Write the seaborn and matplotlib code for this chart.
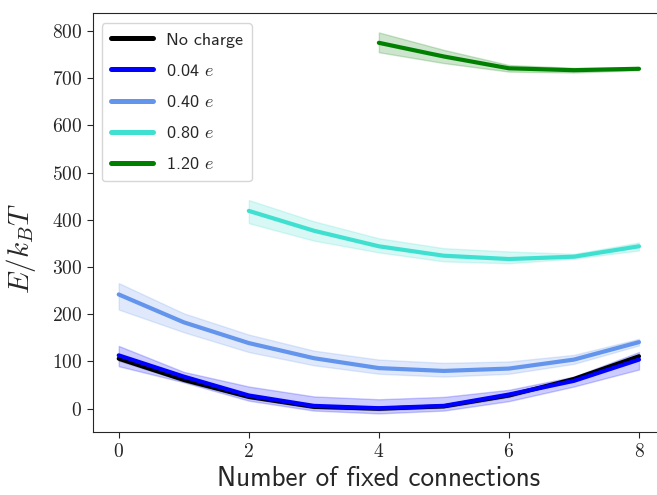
import numpy as np
import pandas as pd
import matplotlib
matplotlib.use("Agg")
import matplotlib.pyplot as plt
import seaborn as sns

# mean curve and band limits per charge
x_all = [0, 1, 2, 3, 4, 5, 6, 7, 8]

nocharge_mid = [106, 61, 25, 4, 0, 5, 28, 63, 111]
nocharge_lo = [102, 58, 22, 1, -3, 2, 25, 60, 107]
nocharge_hi = [110, 64, 28, 7, 3, 8, 31, 66, 115]

q004_mid = [113, 68, 28, 6, 1, 6, 30, 59, 104]
q004_lo = [90, 56, 17, -4, -10, -4, 16, 47, 83]
q004_hi = [133, 78, 47, 26, 20, 25, 40, 68, 120]

q040_mid = [242, 183, 139, 107, 86, 80, 85, 104, 141]
q040_lo = [210, 162, 120, 92, 74, 68, 74, 95, 134]
q040_hi = [266, 202, 157, 123, 104, 97, 100, 114, 148]

x_080 = [2, 3, 4, 5, 6, 7, 8]
q080_mid = [419, 377, 344, 324, 317, 322, 344]
q080_lo = [393, 356, 331, 312, 308, 318, 335]
q080_hi = [442, 397, 361, 340, 333, 328, 352]

x_120 = [4, 5, 6, 7, 8]
q120_mid = [775, 746, 721, 717, 720]
q120_lo = [755, 732, 714, 712, 717]
q120_hi = [797, 760, 728, 722, 723]

labels = ["No charge", "0.04 $e$", "0.40 $e$", "0.80 $e$", "1.20 $e$"]
colors = ["black", "blue", "cornflowerblue", "turquoise", "green"]

series = [
    (x_all, nocharge_lo, nocharge_mid, nocharge_hi),
    (x_all, q004_lo, q004_mid, q004_hi),
    (x_all, q040_lo, q040_mid, q040_hi),
    (x_080, q080_lo, q080_mid, q080_hi),
    (x_120, q120_lo, q120_mid, q120_hi),
]

rows = []
for lab, (xs, lo, mid, hi) in zip(labels, series):
    for i, xv in enumerate(xs):
        for v in (lo[i], mid[i], hi[i]):
            rows.append({"n": xv, "E": v, "charge": lab})
df = pd.DataFrame(rows)

sns.set_style("ticks")
plt.rcParams["font.family"] = ["cmr10"]
plt.rcParams["mathtext.fontset"] = "cm"
plt.rcParams["axes.formatter.use_mathtext"] = True

fig = plt.figure(figsize=(6.57, 4.95), dpi=100)
ax = fig.add_axes([92.7 / 657, (495 - 432.3) / 495, (665 - 92.7) / 657, (432.3 - 13.3) / 495])

sns.lineplot(data=df, x="n", y="E", hue="charge", hue_order=labels,
             palette=dict(zip(labels, colors)), estimator="median",
             errorbar=("pi", 100), linewidth=3, ax=ax)

ax.set_xlim(-0.4, 8.4)
ax.set_ylim(-50, 837.5)
ax.set_xticks([0, 2, 4, 6, 8])
ax.set_yticks(range(0, 801, 100))
ax.tick_params(axis="both", labelsize=14, direction="out", length=4)

ax.set_xlabel("Number of fixed connections", fontsize=19.5, family="cmss10")
ax.set_ylabel("$E/k_BT$", fontsize=21)
ax.yaxis.set_label_coords(-0.095, 0.44)

leg = ax.legend(loc="upper left", bbox_to_anchor=(0.016, 0.977), borderaxespad=0,
                handlelength=2.35, handletextpad=0.7, labelspacing=0.84,
                borderpad=0.5, prop={"family": "cmss10", "size": 13})
for h in leg.get_lines():
    h.set_linewidth(3.6)
leg.get_frame().set_edgecolor("#cccccc")

fig.savefig("out.png", dpi=100)
